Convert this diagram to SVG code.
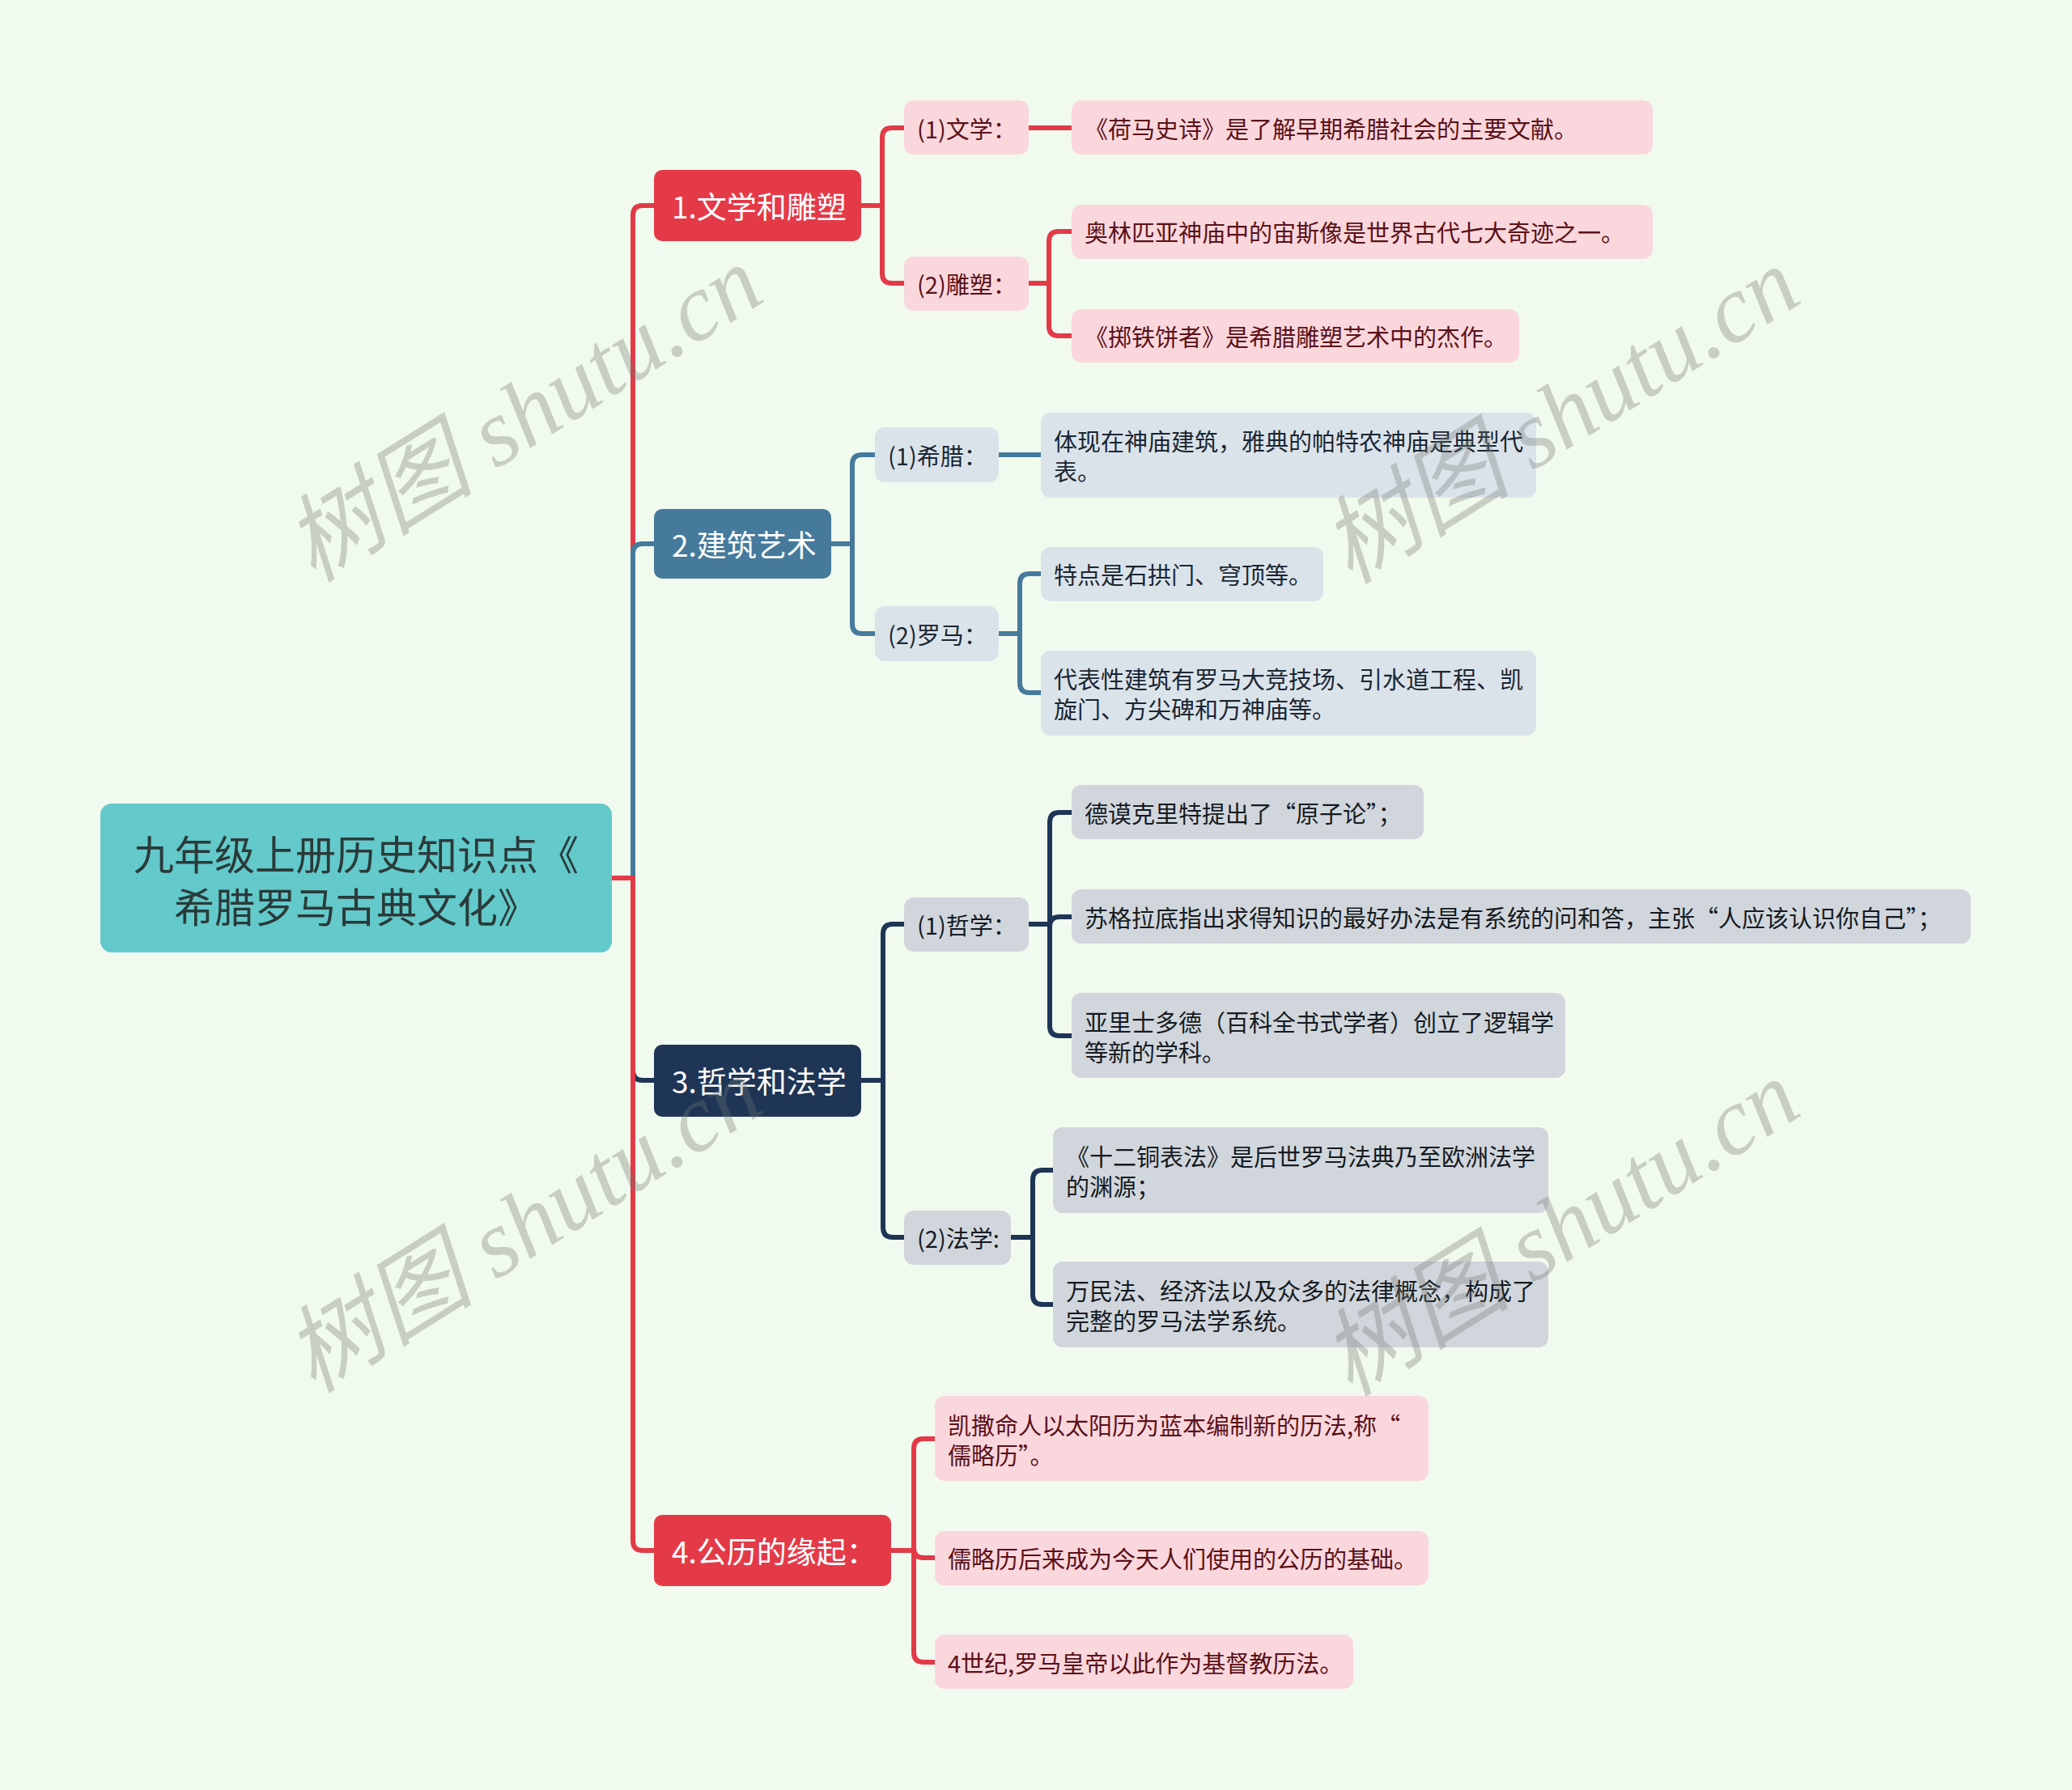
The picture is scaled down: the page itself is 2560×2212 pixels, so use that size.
<svg xmlns="http://www.w3.org/2000/svg" width="2560" height="2212" viewBox="0 0 2560 2212">
<style>
text{font-family:"Noto Sans CJK SC","Noto Sans",sans-serif;}
.c{fill:none;stroke-width:6;stroke-linejoin:round;stroke-linecap:butt}
.red{stroke:#e33a48}.blue{stroke:#467a9c}.navy{stroke:#1e3556}
.root{fill:#63c9ca}
.rt{font-size:50px;fill:#2b3a3a;text-anchor:middle;dominant-baseline:central}
.b1{fill:#e43a48}.b2{fill:#467a9c}.b3{fill:#1e3556}
.bt{font-size:37px;fill:#ffffff;dominant-baseline:central}
.pk{fill:#fad7dc}.bg{fill:#dbe3ea}.gy{fill:#d1d6dc}
.t{font-size:29px;dominant-baseline:central}
.tp{fill:#5a1018}.tb{fill:#1a2633}.tg{fill:#141a22}
.wm{font-family:"Liberation Serif","Noto Sans CJK SC",serif;font-style:italic;font-size:118px;fill:#6f756f;fill-opacity:0.32;text-anchor:middle;dominant-baseline:central}
</style>
<rect x="0" y="0" width="2560" height="2212" fill="#f1faee"/>

<g id="connectors">
  <path class="c red" d="M756 1085 H782 V266 Q782 254 794 254 H808"/>
  <path class="c blue" d="M756 1085 H782 V684 Q782 672 794 672 H808"/>
  <path class="c navy" d="M756 1085 H782 V1323 Q782 1335 794 1335 H808"/>
  <path class="c red" d="M756 1085 H782 V1904 Q782 1916 794 1916 H808"/>

  <path class="c red" d="M1064 254 H1090 V170 Q1090 158 1102 158 H1117"/>
  <path class="c red" d="M1064 254 H1090 V338 Q1090 350 1102 350 H1117"/>
  <path class="c red" d="M1271 158 H1324"/>
  <path class="c red" d="M1271 350 H1296 V298 Q1296 286 1308 286 H1324"/>
  <path class="c red" d="M1271 350 H1296 V403 Q1296 415 1308 415 H1324"/>

  <path class="c blue" d="M1027 672 H1053 V574 Q1053 562 1065 562 H1081"/>
  <path class="c blue" d="M1027 672 H1053 V771 Q1053 783 1065 783 H1081"/>
  <path class="c blue" d="M1234 562 H1286"/>
  <path class="c blue" d="M1234 783 H1260 V721 Q1260 709 1272 709 H1286"/>
  <path class="c blue" d="M1234 783 H1260 V844 Q1260 856 1272 856 H1286"/>

  <path class="c navy" d="M1064 1335 H1091 V1154 Q1091 1142 1103 1142 H1117"/>
  <path class="c navy" d="M1064 1335 H1091 V1517 Q1091 1529 1103 1529 H1117"/>
  <path class="c navy" d="M1271 1142 H1297 V1016 Q1297 1004 1309 1004 H1324"/>
  <path class="c navy" d="M1271 1142 H1297 V1145 Q1297 1133 1309 1133 H1324"/>
  <path class="c navy" d="M1271 1142 H1297 V1268 Q1297 1280 1309 1280 H1324"/>
  <path class="c navy" d="M1249 1529 H1276 V1458 Q1276 1446 1288 1446 H1301"/>
  <path class="c navy" d="M1249 1529 H1276 V1600 Q1276 1612 1288 1612 H1301"/>

  <path class="c red" d="M1101 1916 H1129 V1790 Q1129 1778 1141 1778 H1155"/>
  <path class="c red" d="M1101 1916 H1129 V1913 Q1129 1925 1141 1925 H1155"/>
  <path class="c red" d="M1101 1916 H1129 V2042 Q1129 2054 1141 2054 H1155"/>
</g>

<g id="root">
  <rect class="root" x="124" y="993" width="632" height="184" rx="14"/>
  <text class="rt" x="440" y="1053">九年级上册历史知识点《</text>
  <text class="rt" x="440" y="1118">希腊罗马古典文化》</text>
</g>

<g id="branch1">
  <rect class="b1" x="808" y="210" width="256" height="88" rx="10"/>
  <text class="bt" x="830" y="254">1.文学和雕塑</text>
</g>
<g id="b1-sub1">
  <rect class="pk" x="1117" y="124" width="154" height="67" rx="12"/>
  <text class="t tp" x="1133" y="158">(1)文学：</text>
</g>
<g id="b1-sub1-leaf1">
  <rect class="pk" x="1324" y="124" width="718" height="67" rx="12"/>
  <text class="t tp" x="1340" y="158">《荷马史诗》是了解早期希腊社会的主要文献。</text>
</g>
<g id="b1-sub2">
  <rect class="pk" x="1117" y="317" width="154" height="67" rx="12"/>
  <text class="t tp" x="1133" y="350">(2)雕塑：</text>
</g>
<g id="b1-sub2-leaf1">
  <rect class="pk" x="1324" y="253" width="718" height="67" rx="12"/>
  <text class="t tp" x="1340" y="286">奥林匹亚神庙中的宙斯像是世界古代七大奇迹之一。</text>
</g>
<g id="b1-sub2-leaf2">
  <rect class="pk" x="1324" y="382" width="553" height="66" rx="12"/>
  <text class="t tp" x="1340" y="415">《掷铁饼者》是希腊雕塑艺术中的杰作。</text>
</g>

<g id="branch2">
  <rect class="b2" x="808" y="629" width="219" height="86" rx="10"/>
  <text class="bt" x="830" y="672">2.建筑艺术</text>
</g>
<g id="b2-sub1">
  <rect class="bg" x="1081" y="528" width="153" height="68" rx="12"/>
  <text class="t tb" x="1097" y="562">(1)希腊：</text>
</g>
<g id="b2-sub1-leaf1">
  <rect class="bg" x="1286" y="510" width="612" height="105" rx="12"/>
  <text class="t tb" x="1302" y="544">体现在神庙建筑，雅典的帕特农神庙是典型代</text>
  <text class="t tb" x="1302" y="581">表。</text>
</g>
<g id="b2-sub2">
  <rect class="bg" x="1081" y="749" width="153" height="68" rx="12"/>
  <text class="t tb" x="1097" y="783">(2)罗马：</text>
</g>
<g id="b2-sub2-leaf1">
  <rect class="bg" x="1286" y="676" width="349" height="67" rx="12"/>
  <text class="t tb" x="1302" y="709">特点是石拱门、穹顶等。</text>
</g>
<g id="b2-sub2-leaf2">
  <rect class="bg" x="1286" y="804" width="612" height="105" rx="12"/>
  <text class="t tb" x="1302" y="838">代表性建筑有罗马大竞技场、引水道工程、凯</text>
  <text class="t tb" x="1302" y="875">旋门、方尖碑和万神庙等。</text>
</g>

<g id="branch3">
  <rect class="b3" x="808" y="1291" width="256" height="89" rx="10"/>
  <text class="bt" x="830" y="1335">3.哲学和法学</text>
</g>
<g id="b3-sub1">
  <rect class="gy" x="1117" y="1109" width="154" height="67" rx="12"/>
  <text class="t tg" x="1133" y="1142">(1)哲学：</text>
</g>
<g id="b3-sub1-leaf1">
  <rect class="gy" x="1324" y="970" width="435" height="67" rx="12"/>
  <text class="t tg" x="1340" y="1004">德谟克里特提出了“原子论”；</text>
</g>
<g id="b3-sub1-leaf2">
  <rect class="gy" x="1324" y="1099" width="1111" height="67" rx="12"/>
  <text class="t tg" x="1340" y="1133">苏格拉底指出求得知识的最好办法是有系统的问和答，主张“人应该认识你自己”；</text>
</g>
<g id="b3-sub1-leaf3">
  <rect class="gy" x="1324" y="1227" width="610" height="105" rx="12"/>
  <text class="t tg" x="1340" y="1262">亚里士多德（百科全书式学者）创立了逻辑学</text>
  <text class="t tg" x="1340" y="1299">等新的学科。</text>
</g>
<g id="b3-sub2">
  <rect class="gy" x="1117" y="1496" width="132" height="67" rx="12"/>
  <text class="t tg" x="1133" y="1529">(2)法学:</text>
</g>
<g id="b3-sub2-leaf1">
  <rect class="gy" x="1301" y="1393" width="612" height="106" rx="12"/>
  <text class="t tg" x="1317" y="1428">《十二铜表法》是后世罗马法典乃至欧洲法学</text>
  <text class="t tg" x="1317" y="1465">的渊源；</text>
</g>
<g id="b3-sub2-leaf2">
  <rect class="gy" x="1301" y="1559" width="612" height="106" rx="12"/>
  <text class="t tg" x="1317" y="1594">万民法、经济法以及众多的法律概念，构成了</text>
  <text class="t tg" x="1317" y="1631">完整的罗马法学系统。</text>
</g>

<g id="branch4">
  <rect class="b1" x="808" y="1872" width="293" height="88" rx="10"/>
  <text class="bt" x="830" y="1916">4.公历的缘起：</text>
</g>
<g id="b4-leaf1">
  <rect class="pk" x="1155" y="1725" width="610" height="105" rx="12"/>
  <text class="t tp" x="1171" y="1760">凯撒命人以太阳历为蓝本编制新的历法,称“</text>
  <text class="t tp" x="1171" y="1797">儒略历”。</text>
</g>
<g id="b4-leaf2">
  <rect class="pk" x="1155" y="1892" width="610" height="67" rx="12"/>
  <text class="t tp" x="1171" y="1925">儒略历后来成为今天人们使用的公历的基础。</text>
</g>
<g id="b4-leaf3">
  <rect class="pk" x="1155" y="2020" width="517" height="67" rx="12"/>
  <text class="t tp" x="1171" y="2054">4世纪,罗马皇帝以此作为基督教历法。</text>
</g>

<g id="watermarks">
  <text class="wm" transform="translate(647 512) rotate(-32)">树图 shutu.cn</text>
  <text class="wm" transform="translate(1928 514) rotate(-32)">树图 shutu.cn</text>
  <text class="wm" transform="translate(647 1514) rotate(-32)">树图 shutu.cn</text>
  <text class="wm" transform="translate(1928 1518) rotate(-32)">树图 shutu.cn</text>
</g>
</svg>
